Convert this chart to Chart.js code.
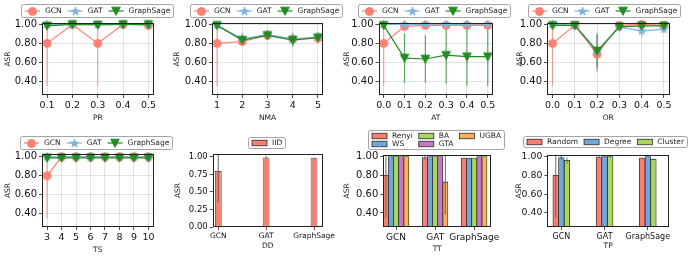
<!DOCTYPE html>
<html>
<head>
<meta charset="utf-8">
<script src="https://cdn.jsdelivr.net/npm/chart.js@4.4.1/dist/chart.umd.min.js"></script>
<style>
  html, body { margin: 0; padding: 0; background: #fff; }
  #wrap { position: relative; width: 692px; height: 258px; overflow: hidden; }
  #wrap canvas { position: absolute; }
</style>
</head>
<body>
<div id="wrap">
  <canvas id="pr"></canvas>
  <canvas id="nma"></canvas>
  <canvas id="at"></canvas>
  <canvas id="or"></canvas>
  <canvas id="ts"></canvas>
  <canvas id="dd"></canvas>
  <canvas id="tt"></canvas>
  <canvas id="tp"></canvas>
</div>
<script>
// --- data ---
const models = ["GCN", "GAT", "GraphSage"];

// PR
const prX = [0.1, 0.2, 0.3, 0.4, 0.5];
const prGCN = [0.80, 1.00, 0.80, 1.00, 0.99];
const prGCNErr = [0.45, 0.00, 0.45, 0.00, 0.01];
const prGAT = [1.00, 1.00, 1.00, 1.00, 1.00];
const prGATErr = [0, 0, 0, 0, 0];
const prSage = [0.985, 1.00, 0.995, 1.00, 1.00];
const prSageErr = [0.01, 0, 0.005, 0, 0];

// NMA
const nmaX = [1, 2, 3, 4, 5];
const nmaGCN = [0.80, 0.82, 0.885, 0.845, 0.855];
const nmaGCNErr = [0.45, 0.04, 0.03, 0.04, 0.03];
const nmaGAT = [0.99, 0.845, 0.895, 0.845, 0.87];
const nmaGATErr = [0.01, 0.07, 0.03, 0.07, 0.05];
const nmaSage = [0.99, 0.835, 0.885, 0.835, 0.86];
const nmaSageErr = [0.01, 0.06, 0.03, 0.07, 0.05];

// AT
const atX = [0.0, 0.1, 0.2, 0.3, 0.4, 0.5];
const atGCN = [0.80, 0.98, 0.99, 0.99, 0.99, 0.99];
const atGCNErr = [0.45, 0.02, 0.01, 0.01, 0.01, 0.01];
const atGAT = [1.00, 1.00, 1.00, 1.00, 1.00, 1.00];
const atGATErr = [0, 0, 0, 0, 0, 0];
const atSage = [0.99, 0.645, 0.635, 0.675, 0.66, 0.66];
const atSageErr = [0.01, 0.26, 0.25, 0.30, 0.31, 0.31];

// OR
const orX = [0.0, 0.1, 0.2, 0.3, 0.4, 0.5];
const orGCN = [0.80, 0.99, 0.685, 0.99, 1.00, 0.99];
const orGCNErr = [0.45, 0.01, 0.19, 0.01, 0.005, 0.01];
const orGAT = [1.00, 0.99, 0.71, 0.975, 0.93, 0.95];
const orGATErr = [0, 0.01, 0.20, 0.02, 0.07, 0.04];
const orSage = [0.99, 0.99, 0.72, 0.975, 0.985, 0.985];
const orSageErr = [0.01, 0.01, 0.18, 0.02, 0.01, 0.01];

// TS
const tsX = [3, 4, 5, 6, 7, 8, 9, 10];
const tsGCN = [0.80, 1.00, 1.00, 1.00, 1.00, 1.00, 1.00, 1.00];
const tsGCNErr = [0.45, 0, 0, 0, 0, 0, 0, 0];
const tsGAT = [1.00, 1.00, 1.00, 1.00, 1.00, 1.00, 1.00, 1.00];
const tsGATErr = [0, 0, 0, 0, 0, 0, 0, 0];
const tsSage = [0.99, 0.99, 0.99, 0.99, 0.99, 0.99, 0.99, 0.99];
const tsSageErr = [0, 0, 0, 0, 0, 0, 0, 0];

// DD
const ddIID = [0.80, 0.99, 0.98];
const ddIIDErr = [0.45, 0.02, 0.005];

// TT
const ttRenyi = [0.80, 0.99, 0.985];
const ttRenyiErr = [0.45, 0.03, 0.005];
const ttWS = [1.00, 1.00, 0.985];
const ttBA = [1.00, 1.00, 0.985];
const ttGTA = [1.00, 1.00, 1.00];
const ttUGBA = [1.00, 0.73, 1.00];
const ttUGBAErr = [0, 0.35, 0];
const noErr = [0, 0, 0];

// TP
const tpRandom = [0.80, 0.995, 0.985];
const tpRandomErr = [0.45, 0.01, 0.005];
const tpDegree = [0.99, 1.00, 1.00];
const tpDegreeErr = [0.02, 0.005, 0.005];
const tpCluster = [0.96, 1.00, 0.97];
const tpClusterErr = [0.03, 0.01, 0.01];

// axis ticks
const lineYTicks = [0.4, 0.6, 0.8, 1.0];
const ddYTicks = [0, 0.25, 0.5, 0.75, 1.0];
const barXTicks = [0, 1, 2];

// --- styling ---
Chart.defaults.font.family = '"DejaVu Sans", sans-serif';
Chart.defaults.color = "#222";

const salmon = "#fa7f70";
const steel = "#6fa8d8";
const lime = "#a8d65e";
const orchid = "#c47ac6";
const orange = "#fbb05a";

function makeMarker(kind, color, size) {
  const c = document.createElement("canvas");
  const d = Math.ceil(size) + 3;
  c.width = d; c.height = d;
  const g = c.getContext("2d");
  g.translate(d / 2, d / 2);
  g.fillStyle = color; g.strokeStyle = color; g.lineWidth = 1;
  const r = size / 2;
  g.beginPath();
  if (kind === "circle") {
    g.arc(0, 0, r, 0, Math.PI * 2);
  } else if (kind === "tri") {
    g.moveTo(-r, -r * 0.9); g.lineTo(r, -r * 0.9); g.lineTo(0, r); g.closePath();
  } else {
    for (let k = 0; k < 10; k++) {
      const rr = k % 2 ? r * 0.42 : r * 1.1;
      const a = -Math.PI / 2 + k * Math.PI / 5;
      g.lineTo(rr * Math.cos(a), rr * Math.sin(a));
    }
    g.closePath();
  }
  g.fill(); g.stroke();
  return c;
}

const seriesStyle = {
  GCN: { color: "#fa8072", err: "rgba(250,128,114,0.7)", marker: makeMarker("circle", "#fa8072", 8) },
  GAT: { color: "#7fb1de", err: "rgba(127,177,222,0.7)", marker: makeMarker("star", "#7fb1de", 8) },
  GraphSage: { color: "#228b22", err: "rgba(34,139,34,0.7)", marker: makeMarker("tri", "#228b22", 8.5) },
};

// --- plugins ---
function drawErrors(chart) {
  const ctx = chart.ctx, a = chart.chartArea;
  const xs = chart.scales.x, ys = chart.scales.y;
  ctx.save();
  ctx.beginPath();
  ctx.rect(a.left, a.top, a.right - a.left, a.bottom - a.top);
  ctx.clip();
  chart.data.datasets.forEach(ds => {
    if (!ds.errors) return;
    ctx.strokeStyle = ds.errorColor;
    ctx.lineWidth = 1.2;
    ds.data.forEach((p, i) => {
      const e = ds.errors[i];
      if (!e) return;
      const x = xs.getPixelForValue(p.x);
      ctx.beginPath();
      ctx.moveTo(x, ys.getPixelForValue(p.y - e));
      ctx.lineTo(x, ys.getPixelForValue(p.y + e));
      ctx.stroke();
    });
  });
  ctx.restore();
}

const errorBars = {
  id: "errorBars",
  beforeDatasetsDraw(chart, args, o) { if (o.layer === "before") drawErrors(chart); },
  afterDatasetsDraw(chart, args, o) { if (o.layer === "after") drawErrors(chart); },
};

const frame = {
  id: "frame",
  afterDatasetsDraw(chart) {
    const { ctx, chartArea: a } = chart;
    const l = Math.round(a.left) + 0.5, t = Math.round(a.top) + 0.5;
    const r = Math.round(a.right) - 0.5, b = Math.round(a.bottom) - 0.5;
    ctx.save();
    ctx.strokeStyle = "#222";
    ctx.lineWidth = 1;
    ctx.strokeRect(l, t, r - l, b - t);
    ctx.restore();
  },
};

const boxLegend = {
  id: "boxLegend",
  afterDraw(chart, args, o) {
    if (!o || !o.items) return;
    const ctx = chart.ctx, a = chart.chartArea;
    ctx.save();
    ctx.font = (o.fontSize || 7.5) + 'px "DejaVu Sans"';
    const ncol = o.ncol || o.items.length;
    const nrow = Math.ceil(o.items.length / ncol);
    const hl = 15, hp = 5, cs = 6, bp = 3.5;
    const cols = [];
    o.items.forEach((it, i) => {
      const c = Math.floor(i / nrow);
      (cols[c] = cols[c] || []).push(it);
    });
    const colW = cols.map(col => hl + hp + Math.max(...col.map(it => ctx.measureText(it.label).width)));
    const W = 2 * bp + colW.reduce((s, w) => s + w, 0) + (cols.length - 1) * cs;
    const H = 2 * o.vpad + nrow * o.rowH;
    const x0 = Math.round((a.left + a.right) / 2 + (o.dx || 0) - W / 2) + 0.5;
    const y0 = Math.round(a.top - o.offset) + 0.5;
    ctx.beginPath();
    if (ctx.roundRect) ctx.roundRect(x0, y0, Math.round(W), Math.round(H), 2);
    else ctx.rect(x0, y0, Math.round(W), Math.round(H));
    ctx.fillStyle = "rgba(255,255,255,0.85)";
    ctx.fill();
    ctx.strokeStyle = "#9a9a9a";
    ctx.lineWidth = 0.9;
    ctx.stroke();
    let cx = x0 + bp;
    cols.forEach((col, c) => {
      col.forEach((it, r) => {
        const cy = y0 + o.vpad + o.rowH * (r + 0.5);
        if (it.marker) {
          ctx.strokeStyle = it.color;
          ctx.lineWidth = 1.2;
          ctx.beginPath();
          ctx.moveTo(cx, cy); ctx.lineTo(cx + hl, cy);
          ctx.stroke();
          const m = it.marker;
          ctx.drawImage(m, Math.round(cx + hl / 2 - m.width / 2), Math.round(cy - m.height / 2));
        } else {
          ctx.fillStyle = it.color;
          ctx.fillRect(cx, cy - 2.75, hl, 5.5);
          ctx.strokeStyle = "#2a2a2a";
          ctx.lineWidth = 0.8;
          ctx.strokeRect(cx, cy - 2.75, hl, 5.5);
        }
        ctx.fillStyle = "#222";
        ctx.textBaseline = "middle";
        ctx.textAlign = "left";
        ctx.fillText(it.label, cx + hl + hp, cy + 0.5);
      });
      cx += colW[c] + cs;
    });
    ctx.restore();
  },
};

// --- dataset builders ---
function lineSets(xs, list) {
  return list.map(([name, ys, errs], k) => {
    const st = seriesStyle[name];
    return {
      label: name,
      data: xs.map((x, i) => ({ x, y: ys[i] })),
      errors: errs,
      errorColor: st.err,
      borderColor: st.color,
      backgroundColor: st.color,
      borderWidth: 1.2,
      pointStyle: st.marker,
      pointRadius: 4,
      pointHoverRadius: 4,
      tension: 0,
      fill: false,
      order: 3 - k,
      clip: 6,
    };
  });
}

function barSets(list, width) {
  const n = list.length;
  return list.map(([name, vals, errs, color], j) => ({
    label: name,
    data: vals.map((v, i) => ({ x: i + (j - (n - 1) / 2) * width, y: v })),
    errors: errs,
    errorColor: "rgba(100,100,100,0.8)",
    backgroundColor: color,
    borderColor: "#2a2a2a",
    borderWidth: 0.8,
    borderSkipped: false,
    grouped: false,
    categoryPercentage: 1,
    barPercentage: n === 1 ? width : 1,
  }));
}

const lineLegend = ["GCN", "GAT", "GraphSage"].map(n => ({ label: n, color: seriesStyle[n].color, marker: seriesStyle[n].marker }));
const barLegend = list => list.map(([name, , , color]) => ({ label: name, color }));

// --- panel builder ---
const gridColor = "rgba(176,176,176,0.45)";
const titleSize = 7.5;

function makePanel(p) {
  const cv = document.getElementById(p.id);
  const [bl, bt, bw, bh] = p.box;
  const [L, T, R, B] = p.plot;
  cv.width = bw; cv.height = bh;
  cv.style.left = bl + "px"; cv.style.top = bt + "px";
  const yw = L - bl;
  const xh = bt + bh - B;
  const lh = titleSize * 1.2;
  const isBar = p.type === "bar";
  const grid = {
    display: true,
    drawOnChartArea: !isBar,
    offset: false,
    color: gridColor,
    lineWidth: 0.8,
    tickLength: 3,
    tickColor: "#222",
    tickWidth: 0.8,
  };
  return new Chart(cv, {
    type: p.type,
    data: { datasets: p.datasets },
    options: {
      responsive: false,
      animation: false,
      events: [],
      layout: { padding: { left: 0, bottom: 0, top: T - bt, right: bl + bw - R } },
      plugins: {
        legend: { display: false },
        tooltip: { enabled: false },
        boxLegend: p.legend,
        errorBars: { layer: isBar ? "after" : "before" },
      },
      scales: {
        x: {
          type: "linear",
          min: p.xMin,
          max: p.xMax,
          offset: false,
          afterBuildTicks: s => { s.ticks = p.xTicks.map(v => ({ value: v })); },
          afterFit: s => { s.height = xh; },
          ticks: { callback: p.xLabel, font: { size: p.xFont }, autoSkip: false, maxRotation: 0, padding: 2, color: "#111" },
          grid,
          border: { display: false },
          title: { display: true, text: p.xTitle, font: { size: titleSize }, color: "#222", padding: { top: 0, bottom: bt + bh - p.xTitleY - lh / 2 } },
        },
        y: {
          type: "linear",
          min: p.yMin,
          max: p.yMax,
          afterBuildTicks: s => { s.ticks = p.yTicks.map(v => ({ value: v })); },
          afterFit: s => { s.width = yw; },
          ticks: { callback: v => v.toFixed(2), font: { size: p.yFont }, padding: 2, color: "#111" },
          grid,
          border: { display: false },
          title: { display: true, text: "ASR", font: { size: titleSize }, color: "#222", padding: { top: p.yTitleX - bl - lh / 2, bottom: 0 } },
        },
      },
    },
    plugins: [errorBars, frame, boxLegend],
  });
}

const fmt1 = v => v.toFixed(1);
const fmt0 = v => String(v);
const catLabel = v => models[v];
const lineLeg = (offset, dx) => ({ items: lineLegend, offset, dx, rowH: 9, vpad: 2, fontSize: 7.5 });

makePanel({
  id: "pr", type: "line", box: [0, 0, 185, 128], plot: [42, 23, 153.5, 95],
  datasets: lineSets(prX, [["GCN", prGCN, prGCNErr], ["GAT", prGAT, prGATErr], ["GraphSage", prSage, prSageErr]]),
  xMin: 0.08, xMax: 0.52, xTicks: prX, xLabel: fmt1, xFont: 9.5, xTitle: "PR", xTitleY: 118,
  yMin: 0.255, yMax: 1.015, yTicks: lineYTicks, yFont: 10, yTitleX: 8.3,
  legend: lineLeg(19, -0.5),
});

makePanel({
  id: "nma", type: "line", box: [170, 0, 180, 128], plot: [212, 23, 323, 95],
  datasets: lineSets(nmaX, [["GCN", nmaGCN, nmaGCNErr], ["GAT", nmaGAT, nmaGATErr], ["GraphSage", nmaSage, nmaSageErr]]),
  xMin: 0.8, xMax: 5.2, xTicks: nmaX, xLabel: fmt0, xFont: 9.5, xTitle: "NMA", xTitleY: 118,
  yMin: 0.255, yMax: 1.015, yTicks: lineYTicks, yFont: 10, yTitleX: 177,
  legend: lineLeg(19, -1.3),
});

makePanel({
  id: "at", type: "line", box: [340, 0, 180, 128], plot: [378.5, 23, 493, 95],
  datasets: lineSets(atX, [["GCN", atGCN, atGCNErr], ["GAT", atGAT, atGATErr], ["GraphSage", atSage, atSageErr]]),
  xMin: -0.025, xMax: 0.525, xTicks: atX, xLabel: fmt1, xFont: 9.5, xTitle: "AT", xTitleY: 118,
  yMin: 0.255, yMax: 1.015, yTicks: lineYTicks, yFont: 10, yTitleX: 347,
  legend: lineLeg(19, -2),
});

makePanel({
  id: "or", type: "line", box: [515, 0, 177, 128], plot: [547, 23, 669.5, 95],
  datasets: lineSets(orX, [["GCN", orGCN, orGCNErr], ["GAT", orGAT, orGATErr], ["GraphSage", orSage, orSageErr]]),
  xMin: -0.025, xMax: 0.525, xTicks: orX, xLabel: fmt1, xFont: 9.5, xTitle: "OR", xTitleY: 118,
  yMin: 0.255, yMax: 1.015, yTicks: lineYTicks, yFont: 10, yTitleX: 520,
  legend: lineLeg(19, -4),
});

makePanel({
  id: "ts", type: "line", box: [0, 128, 185, 130], plot: [42, 154, 153.5, 227],
  datasets: lineSets(tsX, [["GCN", tsGCN, tsGCNErr], ["GAT", tsGAT, tsGATErr], ["GraphSage", tsSage, tsSageErr]]),
  xMin: 2.65, xMax: 10.35, xTicks: tsX, xLabel: fmt0, xFont: 9.5, xTitle: "TS", xTitleY: 249.7,
  yMin: 0.26, yMax: 1.03, yTicks: lineYTicks, yFont: 10, yTitleX: 8.3,
  legend: lineLeg(17.7, -1.7),
});

const ddList = [["IID", ddIID, ddIIDErr, salmon]];
makePanel({
  id: "dd", type: "bar", box: [170, 128, 180, 130], plot: [212.7, 154, 323, 227],
  datasets: barSets(ddList, 0.14),
  xMin: -0.117, xMax: 2.188, xTicks: barXTicks, xLabel: catLabel, xFont: 7.5, xTitle: "DD", xTitleY: 246.3,
  yMin: 0, yMax: 1.04, yTicks: ddYTicks, yFont: 8.5, yTitleX: 178.3,
  legend: { items: barLegend(ddList), offset: 16.7, dx: -1, rowH: 8, vpad: 1.5, fontSize: 7.5 },
});

const ttList = [
  ["Renyi", ttRenyi, ttRenyiErr, salmon],
  ["WS", ttWS, noErr, steel],
  ["BA", ttBA, noErr, lime],
  ["GTA", ttGTA, noErr, orchid],
  ["UGBA", ttUGBA, ttUGBAErr, orange],
];
makePanel({
  id: "tt", type: "bar", box: [340, 128, 180, 130], plot: [383.3, 154.7, 491, 227],
  datasets: barSets(ttList, 0.131),
  xMin: -0.328, xMax: 2.43, xTicks: barXTicks, xLabel: catLabel, xFont: 9, xTitle: "TT", xTitleY: 248.7,
  yMin: 0.25, yMax: 1.02, yTicks: lineYTicks, yFont: 10, yTitleX: 346.7,
  legend: { items: barLegend(ttList), ncol: 3, offset: 25, dx: -1, rowH: 8, vpad: 1.5, fontSize: 7.5 },
});

const tpList = [
  ["Random", tpRandom, tpRandomErr, salmon],
  ["Degree", tpDegree, tpDegreeErr, steel],
  ["Cluster", tpCluster, tpClusterErr, lime],
];
makePanel({
  id: "tp", type: "bar", box: [515, 128, 177, 130], plot: [547.3, 154.7, 669, 227],
  datasets: barSets(tpList, 0.13),
  xMin: -0.324, xMax: 2.49, xTicks: barXTicks, xLabel: catLabel, xFont: 8, xTitle: "TP", xTitleY: 246.3,
  yMin: 0.25, yMax: 1.02, yTicks: lineYTicks, yFont: 9.3, yTitleX: 519,
  legend: { items: barLegend(tpList), offset: 18.4, dx: -3.6, rowH: 8, vpad: 1.5, fontSize: 7.5 },
});
</script>
</body>
</html>
